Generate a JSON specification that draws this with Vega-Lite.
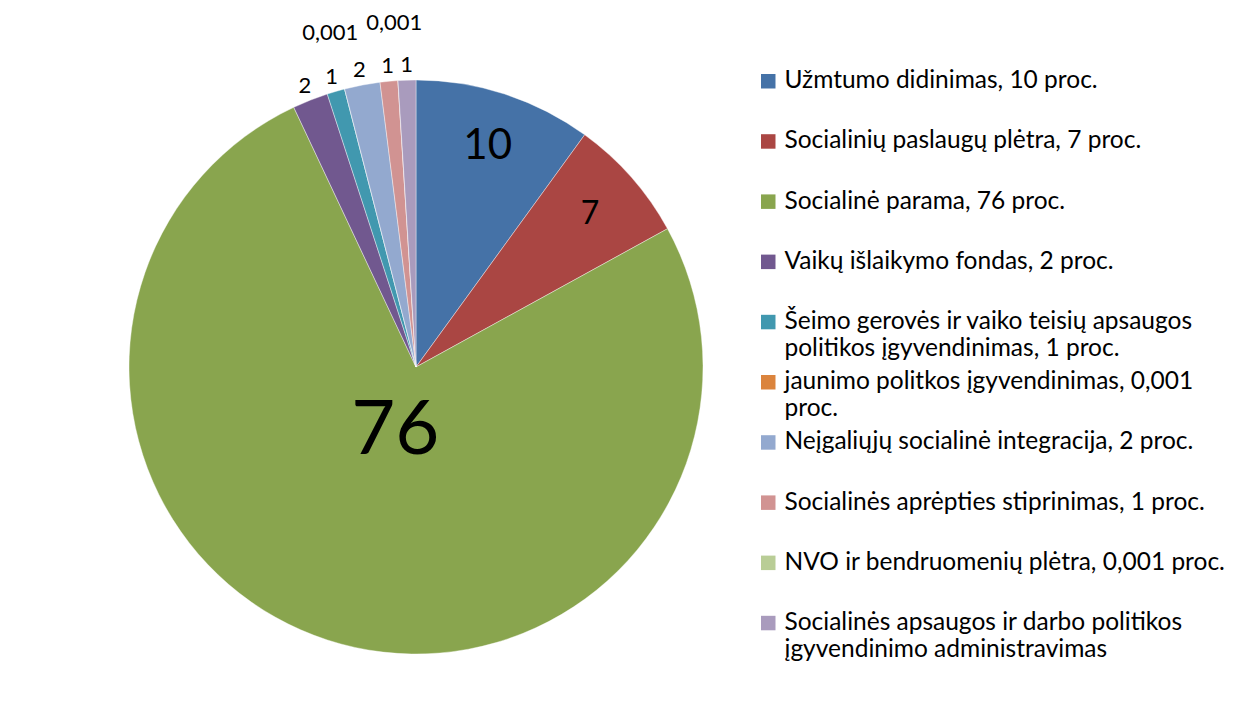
{
  "$schema": "https://vega.github.io/schema/vega-lite/v6.json",
  "width": 574,
  "height": 640,
  "padding": {"left": 129, "top": 47, "right": 553, "bottom": 38},
  "autosize": {"type": "none"},
  "background": "white",
  "config": {"view": {"stroke": null}, "font": "Lato"},
  "data": {
    "values": [
      {"idx": 1, "name": "Užmtumo didinimas, 10 proc.", "value": 10, "label": "10"},
      {"idx": 2, "name": "Socialinių paslaugų plėtra, 7 proc.", "value": 7, "label": "7"},
      {"idx": 3, "name": "Socialinė parama, 76 proc.", "value": 76, "label": "76"},
      {"idx": 4, "name": "Vaikų išlaikymo fondas, 2 proc.", "value": 2, "label": "2"},
      {"idx": 5, "name": "Šeimo gerovės ir vaiko teisių apsaugos\npolitikos įgyvendinimas, 1 proc.", "value": 1, "label": "1"},
      {"idx": 6, "name": "jaunimo politkos įgyvendinimas, 0,001\nproc.", "value": 0.001, "label": "0,001"},
      {"idx": 7, "name": "Neįgaliųjų socialinė integracija, 2 proc.", "value": 2, "label": "2"},
      {"idx": 8, "name": "Socialinės aprėpties stiprinimas, 1 proc.", "value": 1, "label": "1"},
      {"idx": 9, "name": "NVO ir bendruomenių plėtra, 0,001 proc.", "value": 0.001, "label": "0,001"},
      {"idx": 10, "name": "Socialinės apsaugos ir darbo politikos\nįgyvendinimo administravimas", "value": 1, "label": "1"}
    ]
  },
  "encoding": {
    "theta": {"field": "value", "type": "quantitative", "stack": true},
    "order": {"field": "idx", "type": "quantitative"}
  },
  "layer": [
    {
      "mark": {"type": "arc", "outerRadius": 287, "stroke": "white", "strokeWidth": 0.4},
      "encoding": {
        "color": {
          "field": "name",
          "type": "nominal",
          "scale": {
            "domain": [
              "Užmtumo didinimas, 10 proc.",
              "Socialinių paslaugų plėtra, 7 proc.",
              "Socialinė parama, 76 proc.",
              "Vaikų išlaikymo fondas, 2 proc.",
              "Šeimo gerovės ir vaiko teisių apsaugos\npolitikos įgyvendinimas, 1 proc.",
              "jaunimo politkos įgyvendinimas, 0,001\nproc.",
              "Neįgaliųjų socialinė integracija, 2 proc.",
              "Socialinės aprėpties stiprinimas, 1 proc.",
              "NVO ir bendruomenių plėtra, 0,001 proc.",
              "Socialinės apsaugos ir darbo politikos\nįgyvendinimo administravimas"
            ],
            "range": ["#4572A7", "#AA4643", "#89A54E", "#71588F", "#4198AF", "#DB843D", "#93A9CF", "#D19392", "#B9CD96", "#A99BBD"]
          },
          "legend": {
            "orient": "right",
            "offset": 31,
            "padding": 22,
            "title": null,
            "symbolType": "square",
            "symbolSize": 210,
            "symbolStrokeWidth": 0,
            "labelFont": "Lato",
            "labelFontSize": 24.5,
            "labelColor": "black",
            "labelLimit": 700,
            "labelOffset": 4,
            "rowPadding": 8.2,
            "labelBaseline": "middle",
            "labelExpr": "indexof(datum.label, '\\n') >= 0 ? split(datum.label, '\\n') : [datum.label, '']"
          }
        }
      }
    },
    {
      "mark": {"type": "text", "radius": 232, "color": "black", "font": "Lato", "baseline": "middle", "align": "center"},
      "encoding": {
        "text": {"condition": {"test": "datum.idx <= 2", "field": "label"}, "value": ""},
        "size": {"condition": {"test": "datum.idx == 1", "value": 42}, "value": 32}
      }
    },
    {
      "mark": {"type": "text", "radius": 67, "color": "black", "font": "Lato", "fontSize": 76, "baseline": "middle", "align": "center"},
      "encoding": {
        "text": {"condition": {"test": "datum.idx == 3", "field": "label"}, "value": ""}
      }
    },
    {
      "mark": {"type": "text", "radius": 302, "color": "black", "font": "Lato", "fontSize": 22, "baseline": "middle", "align": "center"},
      "encoding": {
        "text": {"condition": {"test": "datum.idx >= 4 && datum.idx != 6 && datum.idx != 9", "field": "label"}, "value": ""}
      }
    },
    {
      "mark": {"type": "text", "radius": 345, "color": "black", "font": "Lato", "fontSize": 22, "baseline": "middle", "align": "center"},
      "encoding": {
        "text": {"condition": {"test": "datum.idx == 6 || datum.idx == 9", "field": "label"}, "value": ""}
      }
    }
  ]
}
